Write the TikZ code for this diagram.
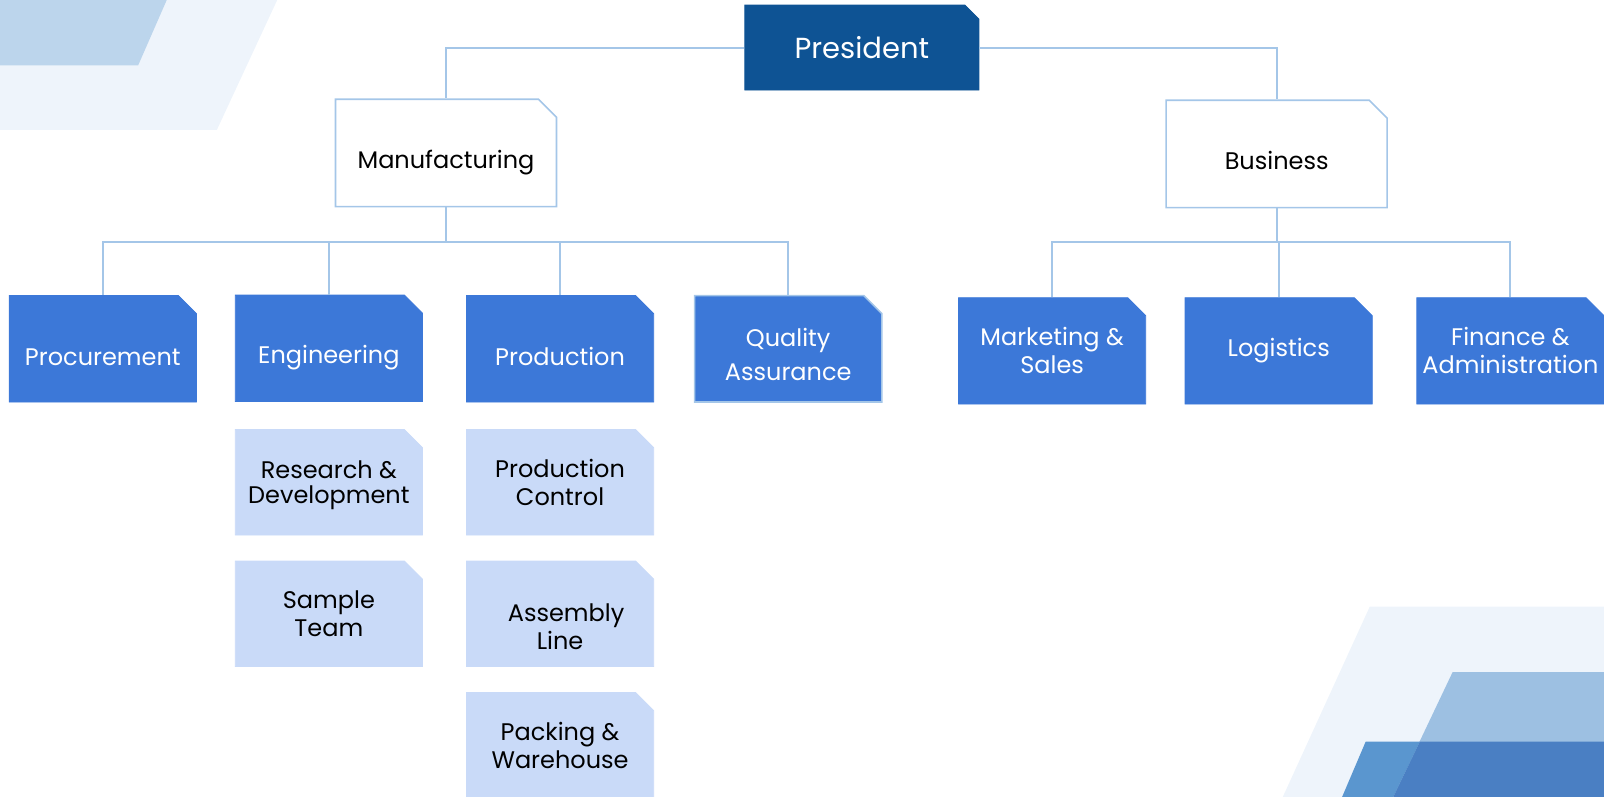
\documentclass[tikz,border=0pt]{standalone}
\usepackage{fontspec}
\setmainfont{Poppins}
\usetikzlibrary{positioning,shapes.misc}
\definecolor{darkblue}{HTML}{0E5394}
\definecolor{midblue}{HTML}{3C78D8}
\definecolor{paleblue}{HTML}{C9DAF8}
\definecolor{linkblue}{HTML}{A4C6E8}
\definecolor{bgone}{HTML}{EEF4FB}
\definecolor{bgtwo}{HTML}{BCD5EC}
\definecolor{bgthree}{HTML}{9DC0E2}
\definecolor{bgfour}{HTML}{4A7FC3}
\definecolor{bgfive}{HTML}{5A96CF}
\newcommand{\lowtext}[2][3pt]{\raisebox{-#1}[\height][\depth]{#2}}

\begin{document}
\begin{tikzpicture}[
  x={(0.5115pt,0)}, y={(0,-0.5115pt)},
  box/.style={chamfered rectangle,chamfered rectangle corners=north east,
    chamfered rectangle xsep=4.5pt,chamfered rectangle ysep=4.5pt,
    minimum width=93.6pt,minimum height=53.2pt,inner sep=1pt,
    align=center,font=\fontsize{12}{14}\selectfont},
  topbox/.style={box,fill=darkblue,draw=darkblue,text=white,
    minimum width=117.1pt,minimum height=42.5pt,
    chamfered rectangle xsep=3.5pt,chamfered rectangle ysep=3.5pt,
    font=\fontsize{14.5}{16}\selectfont},
  headbox/.style={box,fill=white,draw=linkblue,line width=0.8pt,
    minimum width=110.5pt,minimum height=53.7pt},
  unitbox/.style={box,fill=midblue,draw=midblue,text=white},
  subbox/.style={box,fill=paleblue,draw=paleblue,text=black,
    minimum height=52.7pt},
  link/.style={draw=linkblue,line width=1pt}
]
\useasboundingbox (0,0) rectangle (1568,779);

% background shapes
\fill[bgone] (0,0) -- (271,0) -- (212,127) -- (0,127) -- cycle;
\fill[bgtwo] (0,0) -- (163,0) -- (135,64) -- (0,64) -- cycle;
\fill[bgone] (1339,593) -- (1568,593) -- (1568,779) -- (1254,779) -- cycle;
\fill[bgthree] (1420,657) -- (1568,657) -- (1568,779) -- (1362,779) -- cycle;
\fill[bgfive] (1335,725) -- (1388,725) -- (1362,779) -- (1312,779) -- cycle;
\fill[bgfour] (1388,725) -- (1568,725) -- (1568,779) -- (1362,779) -- cycle;

% top levels
\node[topbox] (pres) at (842.5,46.5) {President};
\node[headbox] (manu) at (436,149.5) {\lowtext[5pt]{Manufacturing}};
\node[headbox] (busi) at (1248,150.5) {\lowtext[3.5pt]{Business}};

% manufacturing units
\node[unitbox] (proc) at (100.5,341) {\lowtext[4pt]{Procurement}};
\node[unitbox] (eng) at (321.5,340.5) {\lowtext[4.5pt]{Engineering}};
\node[unitbox] (prod) at (547.5,341) {\lowtext[4pt]{Production}};
\node[unitbox,draw=linkblue,line width=0.8pt,font=\fontsize{12}{17}\selectfont]
  (qa) at (770.5,341) {\lowtext{Quality}\\\lowtext{Assurance}};

% business units
\node[unitbox] (mark) at (1028.5,343) {Marketing \&\\Sales};
\node[unitbox] (logi) at (1250,343) {Logistics};
\node[unitbox,inner xsep=-4pt] (fina) at (1476.5,343) {Finance \&\\Administration};

% sub units
\node[subbox,font=\fontsize{12}{12.8}\selectfont] (rd) at (321.5,471.5)
  {\lowtext[1.5pt]{Research \&}\\\lowtext[1.5pt]{Development}};
\node[subbox] (samp) at (321.5,600) {Sample\\Team};
\node[subbox] (pc) at (547.5,471.5) {Production\\Control};
\node[subbox] (asm) at (547.5,600)
  {\lowtext[6.5pt]{\hspace{6pt}Assembly}\\\lowtext[6.5pt]{Line}};
\node[subbox] (pack) at (547.5,728.5) {Packing \&\\Warehouse};

% connectors
\path[link] (pres.west) -| (manu.north)
  (pres.east) -| (busi.north);
\path[link] (manu.south) -- ++(0,34) coordinate (mbus);
\foreach \n in {proc,eng,prod,qa}
  \path[link] (mbus) -| (\n.north);
\path[link] (busi.south) -- ++(0,33) coordinate (bbus);
\foreach \n in {mark,logi,fina}
  \path[link] (bbus) -| (\n.north);

\end{tikzpicture}
\end{document}
